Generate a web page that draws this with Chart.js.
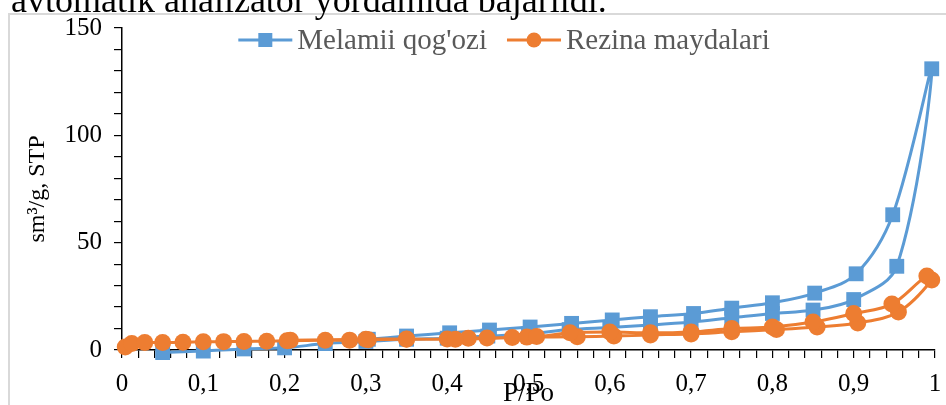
<!doctype html>
<html lang="uz">
<head>
<meta charset="UTF-8" />
<script src="https://cdn.jsdelivr.net/npm/chart.js"></script>
<style>
  html, body { margin: 0; padding: 0; background: #fff; overflow: hidden; }
  #page { position: relative; width: 946px; height: 405px; overflow: hidden; }
  #topline {
    position: absolute; left: -10px; top: -18px; z-index: 3;
    font: 36px/36px "Liberation Serif", "Times New Roman", serif; color: #000; white-space: nowrap;
  }
  #frame {
    position: absolute; left: 8px; top: 13px; width: 960px; height: 420px;
    border-left: 2px solid #d9d9d9; border-top: 2px solid #d9d9d9; z-index: 1;
  }
  #box { position: absolute; left: 0; top: 0; width: 946px; height: 405px; z-index: 2; }
</style>
</head>
<body>
<div id="page">
  <div id="topline">r avtomatik analizator yordamida bajarildi.</div>
  <div id="frame"></div>
  <div id="box"><canvas id="chart"></canvas></div>
</div>
<script>
// Melamii qog'ozi: adsorption then desorption branch
const melamiiX = [0.05, 0.1, 0.15, 0.2, 0.25, 0.3, 0.35, 0.4, 0.45, 0.5, 0.55, 0.6, 0.65, 0.7, 0.75, 0.8, 0.85, 0.9, 0.953, 0.996,
                  0.948, 0.903, 0.852, 0.8, 0.75, 0.703, 0.65, 0.603, 0.553, 0.502, 0.452, 0.403, 0.35, 0.303];
const melamiiY = [-1.2, -0.5, 0.5, 1, 3, 4, 5, 5.5, 6.5, 7.5, 9.5, 10.5, 11.6, 13, 15, 17, 18.6, 23.5, 39, 131,
                  63, 35.5, 26.5, 22, 19.5, 17, 15.5, 14, 12.4, 10.7, 9.3, 8, 6.5, 5];

// Rezina maydalari
const rezinaX = [0.004, 0.012, 0.028, 0.05, 0.075, 0.1, 0.125, 0.15, 0.178, 0.203, 0.25, 0.28, 0.303, 0.35, 0.4, 0.426, 0.449, 0.48, 0.498, 0.56, 0.605, 0.65, 0.7, 0.75, 0.805, 0.855, 0.905, 0.955, 0.996,
                 0.99, 0.947, 0.9, 0.85, 0.8, 0.75, 0.7, 0.65, 0.6, 0.551, 0.51, 0.41, 0.35, 0.3, 0.207];
const rezinaY = [1.4, 3.0, 3.5, 3.5, 3.6, 3.8, 3.9, 4.0, 4.1, 4.3, 4.5, 4.6, 4.8, 5.0, 5.1, 5.5, 5.6, 5.8, 6.0, 6.2, 6.5, 7.0, 7.5, 8.5, 9.5, 10.7, 12.6, 17.7, 32.6,
                 34.5, 21.4, 17, 13, 10.7, 10, 8.4, 8, 8.4, 8, 6.3, 5, 5.1, 5, 4.6];

const xTicks = [0, 0.1, 0.2, 0.3, 0.4, 0.5, 0.6, 0.7, 0.8, 0.9, 1];
const yTicks = [0, 50, 100, 150];

const serif = '"Liberation Serif", "Times New Roman", serif';
const blue = '#5B9BD5';
const orange = '#ED7D31';

function pts(xs, ys) { return xs.map((x, i) => ({ x: x, y: ys[i] })); }
function near(list, v) { return list.some(t => Math.abs(t - v) < 1e-6); }

// legend drawn inside the plot like in the original
const insideLegend = {
  id: 'insideLegend',
  afterDraw(chart) {
    const ctx = chart.ctx;
    ctx.save();
    ctx.font = '29px ' + serif;
    ctx.textBaseline = 'middle';
    const y = 40, lineW = 54, gap = 5, between = 20;
    const items = chart.data.datasets;
    let total = 0;
    items.forEach((d, i) => { total += lineW + gap + ctx.measureText(d.label).width + (i ? between : 0); });
    let x = 504 - total / 2;
    items.forEach((d) => {
      ctx.strokeStyle = d.borderColor;
      ctx.lineWidth = 3;
      ctx.beginPath(); ctx.moveTo(x, y); ctx.lineTo(x + lineW, y); ctx.stroke();
      ctx.fillStyle = d.borderColor;
      const cx = x + lineW / 2;
      if (d.pointStyle === 'rect') ctx.fillRect(cx - 7, y - 7, 14, 14);
      else { ctx.beginPath(); ctx.arc(cx, y, 7.5, 0, Math.PI * 2); ctx.fill(); }
      ctx.fillStyle = '#595959';
      ctx.textAlign = 'left';
      ctx.fillText(d.label, x + lineW + gap, y + 1);
      x += lineW + gap + ctx.measureText(d.label).width + between;
    });
    ctx.restore();
  }
};

new Chart(document.getElementById('chart'), {
  type: 'scatter',
  data: {
    datasets: [
      {
        label: "Melamii qog'ozi",
        data: pts(melamiiX, melamiiY),
        showLine: true, tension: 0.35,
        borderColor: blue, backgroundColor: blue, borderWidth: 3,
        pointStyle: 'rect', pointRadius: 10.5, pointBackgroundColor: blue, pointBorderWidth: 0,
        clip: false, order: 1
      },
      {
        label: 'Rezina maydalari',
        data: pts(rezinaX, rezinaY),
        showLine: true, tension: 0.35,
        borderColor: orange, backgroundColor: orange, borderWidth: 3,
        pointStyle: 'circle', pointRadius: 8.5, pointBackgroundColor: orange, pointBorderWidth: 0,
        clip: false, order: 0
      }
    ]
  },
  options: {
    responsive: true,
    maintainAspectRatio: false,
    animation: false,
    layout: { padding: { top: 28, right: 11, left: 0, bottom: 0 } },
    plugins: { legend: { display: false }, tooltip: { enabled: false } },
    scales: {
      x: {
        type: 'linear', min: 0, max: 1,
        afterFit(s) { s.height = 55; s.paddingRight = 0; s.paddingLeft = 0; },
        border: { color: '#000', width: 1.5 },
        grid: { drawOnChartArea: false, drawTicks: true, tickLength: 8, color: '#000', lineWidth: 1.2 },
        ticks: {
          stepSize: 0.02, autoSkip: false, maxRotation: 0, padding: 11, color: '#000',
          font: { family: serif, size: 25 },
          callback: (v) => near(xTicks, v) ? String(Math.round(v * 10) / 10).replace('.', ',') : ''
        },
        title: {
          display: true, text: 'P/Po', color: '#000',
          font: { family: serif, size: 27, lineHeight: 1 }, padding: { top: 0, bottom: -2 }
        }
      },
      y: {
        min: 0, max: 150,
        afterFit(s) { s.width = 122; },
        border: { color: '#000', width: 1.5 },
        grid: { drawOnChartArea: false, drawTicks: true, tickLength: 8, color: '#000', lineWidth: 1.2 },
        ticks: {
          stepSize: 10, autoSkip: false, padding: 12, color: '#000',
          font: { family: serif, size: 25 },
          callback: (v) => near(yTicks, v) ? String(v) : ''
        },
        title: {
          display: true, text: 'sm³/g, STP', color: '#000',
          font: { family: serif, size: 24 }, padding: { top: 23, bottom: 0 }
        }
      }
    }
  },
  plugins: [insideLegend]
});
</script>
</body>
</html>
